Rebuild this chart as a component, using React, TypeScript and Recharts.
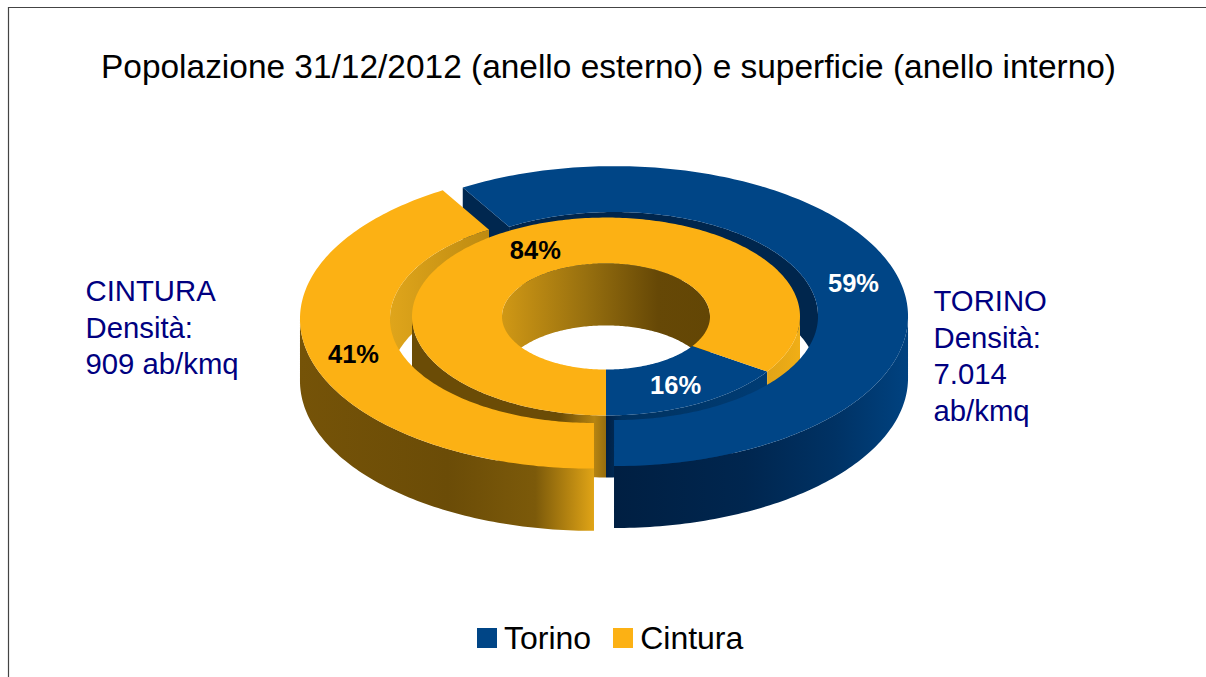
import React from "react";
import { PieChart, Pie, Cell, Legend } from "recharts";

const seriesNames = ["Torino", "Cintura"];
const populationShare = [58.6, 41.4];
const surfaceShare = [15.6, 84.4];
const titleText = "Popolazione 31/12/2012 (anello esterno) e superficie (anello interno)";
const cinturaNote = ["CINTURA", "Densità:", "909 ab/kmq"];
const torinoNote = ["TORINO", "Densità:", "7.014", "ab/kmq"];

const outerData = seriesNames.map((name, i) => ({ name, value: populationShare[i] }));
const innerData = seriesNames.map((name, i) => ({ name, value: surfaceShare[i] }));

const BLUE = "#004586";
const GOLD = "#FCB114";
const NAVY_TEXT = "#000080";
const FONT = "'Liberation Sans', Arial, sans-serif";
const YS = 0.51;
const DEPTH = 62;
const EXPLODE = 10.4;
const RAD = Math.PI / 180;

type Pt = [number, number];
const pt = (cx: number, cy: number, r: number, a: number, z = 0): Pt => [
  cx + r * Math.cos(a * RAD),
  cy - r * YS * Math.sin(a * RAD) + z,
];
const arc = (cx: number, cy: number, r: number, a0: number, a1: number, z = 0): Pt[] => {
  const n = Math.max(2, Math.ceil(Math.abs(a1 - a0)));
  const out: Pt[] = [];
  for (let i = 0; i <= n; i++) out.push(pt(cx, cy, r, a0 + ((a1 - a0) * i) / n, z));
  return out;
};
const toPath = (pts: Pt[]) =>
  "M" + pts.map((p) => p[0].toFixed(2) + " " + p[1].toFixed(2)).join("L") + "Z";

const clipRange = (a0: number, a1: number, lo: number, hi: number): [number, number][] => {
  const res: [number, number][] = [];
  for (const s of [-360, 0, 360]) {
    const l = Math.max(a0, lo + s);
    const h = Math.min(a1, hi + s);
    if (h > l) res.push([l, h]);
  }
  return res;
};

type Layer = "outerBack" | "innerWalls" | "innerTop" | "outerFront";

const centerOf = (p: any, exploded: boolean): [number, number] => {
  if (!exploded) return [p.cx, p.cy];
  const m = (p.startAngle + p.endAngle) / 2;
  return [p.cx + EXPLODE * Math.cos(m * RAD), p.cy - EXPLODE * YS * Math.sin(m * RAD)];
};

const shapeFor = (layer: Layer) => (p: any) => {
  const name = p.name ?? p.payload?.name;
  const isBlue = name === seriesNames[0];
  const a0 = Math.min(p.startAngle, p.endAngle);
  const a1 = Math.max(p.startAngle, p.endAngle);
  const ro = p.outerRadius;
  const ri = p.innerRadius;
  const exploded = layer === "outerBack" || layer === "outerFront";
  const [cx, cy] = centerOf(p, exploded);
  const parts: React.ReactNode[] = [];
  const band = (r: number, l: number, h: number, fill: string, key: string) => {
    const top = arc(cx, cy, r, l, h);
    const bottom = arc(cx, cy, r, h, l, DEPTH);
    parts.push(<path key={key} d={toPath([...top, ...bottom])} fill={fill} />);
  };
  const surface = (fill: string) =>
    parts.push(
      <path key="top" d={toPath([...arc(cx, cy, ro, a0, a1), ...arc(cx, cy, ri, a1, a0)])} fill={fill} />
    );

  if (layer === "outerBack") {
    if (Math.cos(a1 * RAD) < 0 && isBlue) {
      const q: Pt[] = [pt(cx, cy, ro, a1), pt(cx, cy, ri, a1), pt(cx, cy, ri, a1, DEPTH), pt(cx, cy, ro, a1, DEPTH)];
      parts.push(<path key="cut" d={toPath(q)} fill="#00274f" />);
    }
    clipRange(a0, a1, 0, 180).forEach(([l, h], i) =>
      band(ri, l, h, isBlue ? "#00264d" : "url(#outerBackGold)", "w" + i)
    );
  }
  if (layer === "innerWalls") {
    clipRange(a0, a1, 0, 180).forEach(([l, h], i) => band(ri, l, h, "url(#holeGold)", "h" + i));
    clipRange(a0, a1, 180, 360).forEach(([l, h], i) =>
      band(ro, l, h, isBlue ? "url(#innerBlue)" : "url(#innerGold)", "o" + i)
    );
  }
  if (layer === "innerTop") surface(isBlue ? BLUE : GOLD);
  if (layer === "outerFront") {
    clipRange(a0, a1, 180, 360).forEach(([l, h], i) =>
      band(ro, l, h, isBlue ? "url(#outerBlue)" : "url(#outerGold)", "o" + i)
    );
    surface(isBlue ? BLUE : GOLD);
  }
  return <g>{parts}</g>;
};

const labelFor = (exploded: boolean) => (p: any) => {
  const isBlue = (p.name ?? p.payload?.name) === seriesNames[0];
  const r = (p.innerRadius + p.outerRadius) / 2;
  const [cx, cy] = centerOf(p, exploded);
  const [x, y] = pt(cx, cy, r, p.midAngle);
  return (
    <text
      x={x - 0.5}
      y={y + 1}
      textAnchor="middle"
      dominantBaseline="central"
      fontFamily={FONT}
      fontSize={25.5}
      fontWeight={700}
      fill={isBlue ? "#fff" : "#000"}
    >
      {Math.round(p.percent * 100) + "%"}
    </text>
  );
};

const stops = (list: [number, string][]) =>
  list.map(([o, c]) => <stop key={o} offset={o} stopColor={c} />);

const Grad = ({ id, x1, x2, s }: { id: string; x1: number; x2: number; s: [number, string][] }) => (
  <linearGradient id={id} gradientUnits="userSpaceOnUse" x1={x1} x2={x2} y1={0} y2={0}>
    {stops(s)}
  </linearGradient>
);

const LegendBox = (props: any) => {
  const items = (props.payload || []).filter((e: any) => e.type !== "none");
  return (
    <div style={{ display: "flex", fontFamily: FONT, fontSize: 32, color: "#000", lineHeight: "40px" }}>
      {items.map((e: any) => (
        <div key={e.value} style={{ display: "flex", alignItems: "center", marginRight: 22 }}>
          <span style={{ width: 20, height: 20, background: e.color, display: "inline-block", marginRight: 7 }} />
          <span>{e.value}</span>
        </div>
      ))}
    </div>
  );
};

const ringProps = { cx: 604, cy: 316.5, startAngle: -90, endAngle: 270, stroke: "none", isAnimationActive: false, labelLine: false };
const OUTER_R = 294;
const OUTER_I = 204;
const INNER_R = 194;
const INNER_I = 104;

export default function App() {
  return (
    <div style={{ position: "absolute", left: 0, top: 0, width: 1206, height: 677, overflow: "hidden", background: "#fff" }}>
      <PieChart width={1206} height={677} margin={{ top: 0, right: 0, bottom: 0, left: 0 }}>
        <defs>
          <Grad id="outerBackGold" x1={390} x2={490} s={[[0, "#dfa51b"], [1, "#bd8a11"]]} />
          <Grad id="holeGold" x1={502} x2={710} s={[[0, "#d09815"], [0.4, "#98700f"], [0.75, "#664806"], [1, "#634605"]]} />
          <Grad id="innerGold" x1={412} x2={800} s={[[0, "#6b4c06"], [0.38, "#6b4c06"], [0.47, "#b58412"], [0.5, "#966d0e"], [0.9, "#dfa217"], [1, "#f0ae16"]]} />
          <Grad id="innerBlue" x1={606} x2={766} s={[[0, "#001f44"], [0.1, "#003260"], [1, "#003c74"]]} />
          <Grad id="outerGold" x1={301} x2={594} s={[[0, "#755308"], [0.5, "#6b4c07"], [0.8, "#7c5a0a"], [1, "#e0a416"]]} />
          <Grad id="outerBlue" x1={614} x2={908} s={[[0, "#001f42"], [0.45, "#00264f"], [0.75, "#003264"], [1, "#004280"]]} />
        </defs>
        <path d="M8.5 677V7.5H1206" fill="none" stroke="#444" strokeWidth={1.2} />
        <text x={608.5} y={78} textAnchor="middle" fontFamily={FONT} fontSize={33.45} fill="#000">
          {titleText}
        </text>
        {cinturaNote.map((t, i) => (
          <text key={t} x={85.5} y={301 + i * 36.5} fontFamily={FONT} fontSize={29.3} fill={NAVY_TEXT}>
            {t}
          </text>
        ))}
        {torinoNote.map((t, i) => (
          <text key={t} x={933.5} y={311 + i * 36.5} fontFamily={FONT} fontSize={29.3} fill={NAVY_TEXT}>
            {t}
          </text>
        ))}
        <Pie {...ringProps} cy={317.5} data={outerData} dataKey="value" nameKey="name" outerRadius={OUTER_R} innerRadius={OUTER_I}
          shape={shapeFor("outerBack")} legendType="none" />
        <Pie {...ringProps} cx={606} data={innerData} dataKey="value" nameKey="name" outerRadius={INNER_R} innerRadius={INNER_I}
          shape={shapeFor("innerWalls")} legendType="none" />
        <Pie {...ringProps} cx={606} data={innerData} dataKey="value" nameKey="name" outerRadius={INNER_R} innerRadius={INNER_I}
          shape={shapeFor("innerTop")} legendType="none" label={labelFor(false)} />
        <Pie {...ringProps} cy={317.5} data={outerData} dataKey="value" nameKey="name" outerRadius={OUTER_R} innerRadius={OUTER_I}
          shape={shapeFor("outerFront")} label={labelFor(true)} legendType="square">
          {seriesNames.map((n, i) => (
            <Cell key={n} fill={i === 0 ? BLUE : GOLD} />
          ))}
        </Pie>
        <Legend content={LegendBox} itemSorter={null} wrapperStyle={{ position: "absolute", left: 477, top: 618, width: 400, height: 40 }} />
      </PieChart>
    </div>
  );
}
